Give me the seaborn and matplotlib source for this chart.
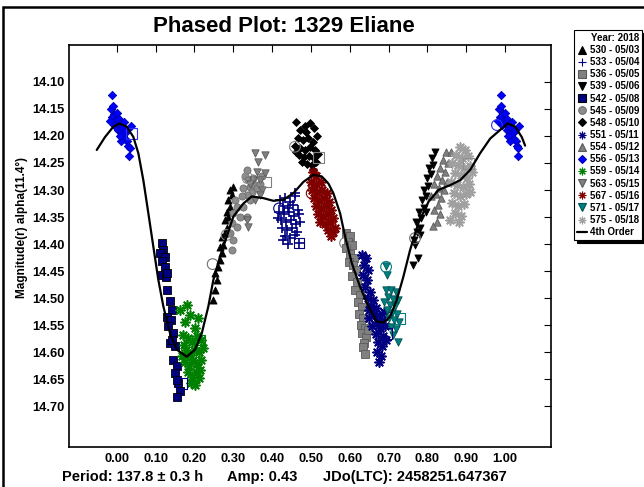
import matplotlib
matplotlib.use("Agg")
import matplotlib.pyplot as plt
import seaborn as sns
from matplotlib.patches import Rectangle
from matplotlib.lines import Line2D

# phase / magnitude, one pair of lists per session
ph_530 = [0.249, 0.253, 0.2575, 0.253, 0.2617, 0.266, 0.270, 0.266, 0.2746, 0.270, 0.279, 0.283, 0.279, 0.287, 0.283, 0.292, 0.287, 0.296, 0.292, 0.300]
mag_530 = [14.503, 14.485, 14.466, 14.454, 14.442, 14.429, 14.417, 14.405, 14.402, 14.386, 14.380, 14.371, 14.355, 14.349, 14.340, 14.331, 14.318, 14.309, 14.300, 14.294]

ph_533 = [0.4206, 0.4335, 0.4463, 0.459, 0.4283, 0.4412, 0.454, 0.467, 0.418, 0.4309, 0.4438, 0.4566, 0.4695, 0.4232, 0.436, 0.449, 0.4618, 0.4257, 0.4386, 0.4515, 0.4644, 0.4335, 0.4463, 0.459, 0.4154, 0.472, 0.459, 0.4695, 0.4412, 0.4283]
mag_533 = [14.318, 14.315, 14.322, 14.311, 14.3296, 14.333, 14.328, 14.337, 14.341, 14.344, 14.341, 14.348, 14.344, 14.355, 14.359, 14.355, 14.363, 14.370, 14.374, 14.370, 14.3775, 14.385, 14.389, 14.383, 14.352, 14.359, 14.3055, 14.398, 14.400, 14.392]

ph_536 = [0.5905, 0.6008, 0.5957, 0.606, 0.5905, 0.6008, 0.611, 0.598, 0.6086, 0.616, 0.606, 0.619, 0.6137, 0.6266, 0.6215, 0.6317, 0.624, 0.634, 0.629, 0.6394, 0.6317, 0.642, 0.637, 0.634, 0.6394, 0.6472]
mag_536 = [14.3794, 14.385, 14.396, 14.4016, 14.407, 14.418, 14.4255, 14.433, 14.4385, 14.448, 14.459, 14.470, 14.485, 14.494, 14.507, 14.5165, 14.529, 14.536, 14.5493, 14.555, 14.564, 14.5714, 14.5825, 14.590, 14.603, 14.5585]

ph_539 = [0.763, 0.776, 0.768, 0.7656, 0.7734, 0.781, 0.771, 0.7837, 0.7785, 0.7914, 0.786, 0.7966, 0.7914, 0.8017, 0.799, 0.8094, 0.804, 0.8146, 0.812, 0.8197, 0.781, 0.7966]
mag_539 = [14.4385, 14.4255, 14.4016, 14.392, 14.3775, 14.370, 14.359, 14.352, 14.3406, 14.333, 14.3185, 14.311, 14.300, 14.2926, 14.2778, 14.270, 14.2594, 14.254, 14.241, 14.2298, 14.383, 14.3406]

ph_542 = [0.116, 0.120, 0.1115, 0.1244, 0.116, 0.124, 0.116, 0.127, 0.130, 0.137, 0.1416, 0.130, 0.139, 0.133, 0.146, 0.137, 0.150, 0.146, 0.1545, 0.150, 0.159, 0.163, 0.156, 0.1545, 0.1416, 0.130]
mag_542 = [14.398, 14.411, 14.417, 14.423, 14.432, 14.442, 14.457, 14.460, 14.485, 14.506, 14.522, 14.534, 14.540, 14.552, 14.565, 14.583, 14.589, 14.614, 14.626, 14.638, 14.657, 14.672, 14.682, 14.651, 14.577, 14.454]

ph_545 = [0.335, 0.330, 0.339, 0.352, 0.343, 0.356, 0.326, 0.348, 0.3605, 0.335, 0.322, 0.343, 0.309, 0.326, 0.300, 0.3175, 0.335, 0.296, 0.309, 0.292, 0.300, 0.296, 0.369, 0.373, 0.305]
mag_545 = [14.263, 14.275, 14.282, 14.278, 14.294, 14.291, 14.297, 14.303, 14.297, 14.309, 14.312, 14.318, 14.331, 14.331, 14.343, 14.349, 14.349, 14.361, 14.368, 14.380, 14.392, 14.411, 14.288, 14.275, 14.318]

ph_548 = [0.4618, 0.4978, 0.472, 0.4875, 0.508, 0.467, 0.4798, 0.4927, 0.5055, 0.516, 0.4593, 0.472, 0.485, 0.4978, 0.511, 0.4695, 0.4824, 0.4953, 0.508, 0.5186, 0.4772, 0.490, 0.503, 0.5133, 0.5055, 0.4618, 0.485]
mag_548 = [14.1744, 14.176, 14.189, 14.193, 14.1855, 14.204, 14.2077, 14.204, 14.211, 14.200, 14.2187, 14.2224, 14.226, 14.2206, 14.226, 14.2353, 14.239, 14.237, 14.241, 14.2335, 14.248, 14.252, 14.2538, 14.248, 14.263, 14.230, 14.182]

ph_551 = [0.6317, 0.642, 0.637, 0.6472, 0.634, 0.6446, 0.6394, 0.6523, 0.6472, 0.660, 0.655, 0.6678, 0.6626, 0.6755, 0.650, 0.6704, 0.683, 0.6575, 0.678, 0.691, 0.6678, 0.686, 0.673, 0.683, 0.6704, 0.6807, 0.6755, 0.6935, 0.650, 0.6884]
mag_551 = [14.420, 14.4255, 14.4385, 14.448, 14.457, 14.466, 14.479, 14.488, 14.4994, 14.503, 14.514, 14.518, 14.529, 14.531, 14.536, 14.5437, 14.540, 14.551, 14.555, 14.551, 14.566, 14.5695, 14.5806, 14.588, 14.599, 14.6065, 14.6175, 14.577, 14.5218, 14.5255]

ph_554 = [0.848, 0.861, 0.840, 0.853, 0.8326, 0.8455, 0.825, 0.838, 0.8507, 0.817, 0.830, 0.843, 0.8223, 0.835, 0.8094, 0.8275, 0.817, 0.8326, 0.825, 0.8146]
mag_554 = [14.2298, 14.2298, 14.2446, 14.250, 14.2594, 14.267, 14.274, 14.2815, 14.2852, 14.289, 14.2963, 14.300, 14.3074, 14.3148, 14.311, 14.3277, 14.337, 14.3443, 14.359, 14.3666]

# session 556 straddles phase 0, so it is also shown one cycle later
ph_556 = [-0.011, -0.016, -0.010, -0.006, -0.012, -0.003, 0.000, 0.002, -0.007, 0.005, 0.008, 0.004, 0.010, 0.012, 0.015, 0.018, 0.016, 0.020, 0.022, 0.025, 0.027, 0.030, 0.033, 0.032, 0.012, 0.008, 0.036, -0.018]
mag_556 = [14.125, 14.150, 14.145, 14.160, 14.165, 14.170, 14.158, 14.175, 14.180, 14.168, 14.182, 14.190, 14.178, 14.192, 14.185, 14.175, 14.200, 14.195, 14.205, 14.190, 14.210, 14.218, 14.222, 14.238, 14.210, 14.200, 14.182, 14.172]

ph_559 = [0.163, 0.181, 0.189, 0.175, 0.2017, 0.209, 0.171, 0.1836, 0.194, 0.207, 0.217, 0.1777, 0.189, 0.199, 0.212, 0.222, 0.175, 0.186, 0.1965, 0.207, 0.217, 0.1836, 0.194, 0.204, 0.2145, 0.1913, 0.1726, 0.168, 0.2017, 0.212]
mag_559 = [14.522, 14.512, 14.531, 14.544, 14.555, 14.536, 14.568, 14.573, 14.581, 14.570, 14.577, 14.595, 14.605, 14.595, 14.599, 14.592, 14.618, 14.625, 14.614, 14.621, 14.614, 14.636, 14.645, 14.636, 14.632, 14.656, 14.586, 14.607, 14.660, 14.647]

ph_563 = [0.356, 0.382, 0.365, 0.3605, 0.382, 0.369, 0.373, 0.356, 0.335, 0.339, 0.369, 0.352, 0.343]
mag_563 = [14.232, 14.235, 14.248, 14.266, 14.269, 14.282, 14.300, 14.318, 14.355, 14.368, 14.309, 14.282, 14.288]

ph_567 = [0.5055, 0.5133, 0.5004, 0.5133, 0.5264, 0.503, 0.516, 0.529, 0.542, 0.508, 0.521, 0.534, 0.547, 0.5133, 0.5264, 0.5392, 0.552, 0.5186, 0.5315, 0.5444, 0.557, 0.5238, 0.5367, 0.5495, 0.5444, 0.557, 0.552, 0.5622]
mag_567 = [14.2667, 14.274, 14.285, 14.289, 14.285, 14.300, 14.3035, 14.300, 14.3055, 14.315, 14.318, 14.315, 14.322, 14.3295, 14.333, 14.3295, 14.337, 14.344, 14.348, 14.344, 14.352, 14.359, 14.363, 14.359, 14.374, 14.3775, 14.385, 14.370]

ph_571 = [0.6935, 0.696, 0.6935, 0.7064, 0.719, 0.6987, 0.7115, 0.7244, 0.704, 0.7167, 0.696, 0.709, 0.722, 0.701, 0.714, 0.727, 0.7064, 0.719, 0.7115, 0.7244, 0.6884]
mag_571 = [14.4403, 14.457, 14.485, 14.485, 14.488, 14.4975, 14.501, 14.503, 14.512, 14.514, 14.522, 14.5275, 14.529, 14.536, 14.540, 14.5437, 14.553, 14.5566, 14.5677, 14.5806, 14.5068]

ph_575 = [0.884, 0.897, 0.874, 0.889, 0.905, 0.8635, 0.879, 0.8944, 0.910, 0.871, 0.8867, 0.902, 0.915, 0.861, 0.8764, 0.892, 0.9073, 0.8687, 0.884, 0.8996, 0.8635, 0.879, 0.8944, 0.871, 0.8867, 0.858, 0.8815, 0.910]
mag_575 = [14.2206, 14.226, 14.2353, 14.241, 14.237, 14.250, 14.2538, 14.2594, 14.2556, 14.2686, 14.2723, 14.2778, 14.2667, 14.2852, 14.291, 14.2945, 14.289, 14.3056, 14.311, 14.3074, 14.324, 14.3295, 14.3256, 14.3424, 14.348, 14.3555, 14.359, 14.3037]

# first (circle) and last (square) point of some sessions
ring_ph = [0.979, 0.247, 0.283, 0.337, 0.418, 0.459, 0.502, 0.588, 0.6935, 0.768]
ring_mag = [14.180, 14.437, 14.383, 14.278, 14.334, 14.220, 14.306, 14.398, 14.442, 14.389]
ring_col = ['#3030ff', '#707070', '#808080', '#909090', '#000080', '#808080', '#800000', '#808080', '#008080', '#707070']
box_ph = [0.0386, 0.1674, 0.2145, 0.384, 0.4695, 0.519, 0.695, 0.7296, 0.9055]
box_mag = [14.195, 14.657, 14.577, 14.285, 14.398, 14.240, 14.565, 14.537, 14.251]
box_col = ['#3030ff', '#000080', '#008000', '#808080', '#000080', '#808080', '#000080', '#008080', '#909090']

# 4th order Fourier fit
curve_ph = [-0.0515, -0.0301, -0.0088, 0.0067, 0.0258, 0.0428, 0.0556, 0.0685, 0.0814, 0.0943, 0.1071, 0.120, 0.1373, 0.1545, 0.1803, 0.2016, 0.2189, 0.2359, 0.2488, 0.266, 0.2833, 0.3003, 0.326, 0.3477, 0.3775, 0.4033, 0.429, 0.4548, 0.4806, 0.5063, 0.528, 0.545, 0.5578, 0.5751, 0.588, 0.6052, 0.6266, 0.648, 0.6696, 0.6866, 0.7038, 0.7211, 0.7381, 0.7553, 0.7767, 0.8025, 0.8282, 0.8584, 0.8841, 0.9099, 0.9357, 0.9615, 0.9872, 1.0067, 1.0258, 1.0428, 1.0515]
curve_mag = [14.226, 14.202, 14.183, 14.177, 14.183, 14.202, 14.232, 14.282, 14.343, 14.405, 14.466, 14.515, 14.565, 14.595, 14.608, 14.595, 14.565, 14.515, 14.466, 14.423, 14.386, 14.349, 14.325, 14.312, 14.315, 14.320, 14.318, 14.306, 14.285, 14.272, 14.275, 14.288, 14.306, 14.343, 14.386, 14.435, 14.479, 14.515, 14.543, 14.545, 14.534, 14.503, 14.460, 14.411, 14.361, 14.322, 14.300, 14.291, 14.282, 14.263, 14.232, 14.205, 14.189, 14.177, 14.183, 14.202, 14.218]

ytick_vals = [14.10, 14.15, 14.20, 14.25, 14.30, 14.35, 14.40, 14.45, 14.50, 14.55, 14.60, 14.65, 14.70]
xtick_vals = [0.0, 0.1, 0.2, 0.3, 0.4, 0.5, 0.6, 0.7, 0.8, 0.9, 1.0]

sns.set_style('white')
plt.rcParams['font.family'] = ['Liberation Sans', 'DejaVu Sans']
plt.rcParams['font.weight'] = 'bold'
plt.rcParams['text.color'] = 'black'
plt.rcParams['xtick.color'] = 'black'
plt.rcParams['ytick.color'] = 'black'
plt.rcParams['axes.labelcolor'] = 'black'

fig = plt.figure(figsize=(6.44, 4.87), dpi=100)
ax = fig.add_axes([0.1071, 0.0821, 0.7484, 0.8255])

star8 = (8, 2, 0)
series = [
    (ph_530, mag_530, '530 - 05/03', '^', 'black', 'black', 26),
    (ph_533, mag_533, '533 - 05/04', '+', '#000080', '#000080', 44),
    (ph_536, mag_536, '536 - 05/05', 's', '#808080', '#5a5a5a', 32),
    (ph_539, mag_539, '539 - 05/06', 'v', 'black', 'black', 26),
    (ph_542, mag_542, '542 - 05/08', 's', '#000080', 'black', 36),
    (ph_545, mag_545, '545 - 05/09', 'o', '#8c8c8c', '#6e6e6e', 26),
    (ph_548, mag_548, '548 - 05/10', 'D', 'black', 'black', 16),
    (ph_551, mag_551, '551 - 05/11', star8, '#000080', '#000080', 42),
    (ph_554, mag_554, '554 - 05/12', '^', '#808080', '#5a5a5a', 28),
    (ph_556, mag_556, '556 - 05/13', 'D', '#0000ff', '#0000b0', 18),
    (ph_559, mag_559, '559 - 05/14', star8, '#008000', '#008000', 42),
    (ph_563, mag_563, '563 - 05/15', 'v', '#808080', '#5a5a5a', 28),
    (ph_567, mag_567, '567 - 05/16', star8, '#800000', '#800000', 42),
    (ph_571, mag_571, '571 - 05/17', 'v', '#008080', '#005050', 28),
    (ph_575, mag_575, '575 - 05/18', star8, '#a0a0a0', '#a0a0a0', 42),
]

handles = []
for ph, mag, lab, mk, fc, ec, size in series:
    unfilled = mk in ('+', star8)
    kw = dict(marker=mk, s=size, color=fc, ax=ax, legend=False, zorder=2)
    if unfilled:
        kw['linewidth'] = 1.2
    else:
        kw['edgecolor'] = ec
        kw['linewidth'] = 0.6
    sns.scatterplot(x=ph, y=mag, **kw)
    if lab.startswith('556'):
        sns.scatterplot(x=[p + 1 for p in ph], y=mag, **kw)
    handles.append(Line2D([], [], ls='none', marker=mk, markersize=5.5 if mk != 'D' else 4,
                          markerfacecolor=fc, markeredgecolor=ec if not unfilled else fc,
                          color=fc, markeredgewidth=0.8, label=lab))

for p, m, c in zip(ring_ph, ring_mag, ring_col):
    ax.scatter(p, m, s=60, facecolors='none', edgecolors=c, linewidths=0.8, zorder=3)
for p, m, c in zip(box_ph, box_mag, box_col):
    ax.scatter(p, m, s=60, marker='s', facecolors='none', edgecolors=c, linewidths=0.8, zorder=3)

sns.lineplot(x=curve_ph, y=curve_mag, sort=False, estimator=None, color='black',
             linewidth=1.6, ax=ax, zorder=4)
handles.append(Line2D([], [], color='black', linewidth=1.6, label='4th Order'))

ax.set_xlim(-0.123, 1.118)
ax.set_ylim(14.775, 14.032)
ax.set_xticks(xtick_vals)
ax.set_xticklabels([f'{v:.2f}' for v in xtick_vals])
ax.set_yticks(ytick_vals)
ax.set_yticklabels([f'{v:.2f}' for v in ytick_vals])
ax.tick_params(axis='both', direction='in', length=5, width=0.8, top=True, right=True,
               labelsize=9.3, colors='black')
ax.tick_params(axis='x', pad=4)
ax.tick_params(axis='y', pad=3)
for lbl in ax.get_xticklabels() + ax.get_yticklabels():
    lbl.set_fontweight('bold')
for sp in ax.spines.values():
    sp.set_color('black')
    sp.set_linewidth(1.2)
ax.set_xlabel('')
ax.set_ylabel('')

fig.text(22 / 644, 1 - 227 / 487, 'Magnitude(r) alpha(11.4°)', rotation=90, ha='center',
         va='center', fontsize=8.5, fontweight='bold')
fig.text(284 / 644, 1 - 27 / 487, 'Phased Plot: 1329 Eliane', ha='center', va='center',
         fontsize=16, fontweight='bold')
fig.text(62 / 644, 1 - 477 / 487, 'Period: 137.8 ± 0.3 h', ha='left', va='center',
         fontsize=10.5, fontweight='bold')
fig.text(227 / 644, 1 - 477 / 487, 'Amp: 0.43', ha='left', va='center',
         fontsize=10.5, fontweight='bold')
fig.text(323 / 644, 1 - 477 / 487, 'JDo(LTC): 2458251.647367', ha='left', va='center',
         fontsize=10.5, fontweight='bold')

leg = fig.legend(handles=handles, loc='upper right', bbox_to_anchor=(642 / 644, 1 - 30 / 487),
                 title='Year: 2018', alignment='right', fontsize=7,
                 title_fontproperties={'weight': 'bold', 'size': 7},
                 prop={'weight': 'bold', 'size': 7}, frameon=True, fancybox=False,
                 shadow={'color': 'black', 'alpha': 1}, edgecolor='black', framealpha=1,
                 handlelength=1.0, handletextpad=0.3, labelspacing=0.22, borderpad=0.3,
                 borderaxespad=0)
leg.get_frame().set_linewidth(0.8)

fig.add_artist(Rectangle((3 / 644, -0.1), 1.2, 1 - 7 / 487 + 0.1, transform=fig.transFigure,
                         fill=False, edgecolor='black', linewidth=1.8))

fig.savefig('out.png', dpi=100)
